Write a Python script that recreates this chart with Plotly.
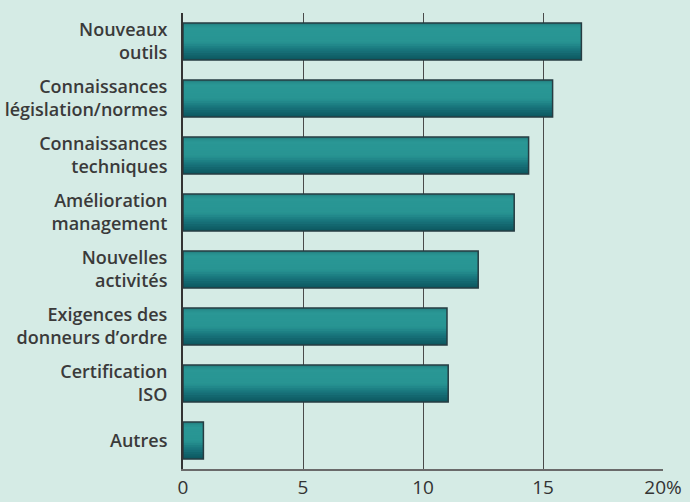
import plotly.graph_objects as go

categories = [
    "Nouveaux<br>outils",
    "Connaissances<br>législation/normes",
    "Connaissances<br>techniques",
    "Amélioration<br>management",
    "Nouvelles<br>activités",
    "Exigences des<br>donneurs d’ordre",
    "Certification<br>ISO",
    "Autres",
]
values = [16.6, 15.4, 14.4, 13.8, 12.3, 11.0, 11.05, 0.85]
tick_vals = [0, 5, 10, 15, 20]
tick_text = ["0", "5", "10", "15", "20%"]

BG = "#d5ebe5"
BAR_W = 0.65

def lerp(c1, c2, t):
    a = [int(c1[i:i + 2], 16) for i in (1, 3, 5)]
    b = [int(c2[i:i + 2], 16) for i in (1, 3, 5)]
    return "rgb(%d,%d,%d)" % tuple(round(a[k] + (b[k] - a[k]) * t) for k in range(3))

# vertical gradient stops (visual top -> bottom)
stops = [(0.0, "#237f80"), (0.12, "#2a9795"), (0.5, "#289593"), (0.75, "#17727a"), (1.0, "#0c555d")]

def grad(t):
    for (t0, c0), (t1, c1) in zip(stops[:-1], stops[1:]):
        if t0 <= t <= t1:
            return lerp(c0, c1, (t - t0) / (t1 - t0))
    return stops[-1][1]

fig = go.Figure()
N = 16
band = BAR_W / N
for i in range(N):
    t = (i + 0.5) / N
    # y axis reversed: positive offset goes downward visually
    off = -BAR_W / 2 + i * band
    w = band if i == N - 1 else band * 2.0
    fig.add_trace(go.Bar(
        x=values, y=categories, orientation="h",
        width=w, offset=off,
        marker=dict(color=grad(t), line=dict(width=0)),
        hoverinfo="skip", showlegend=False,
    ))

fig.add_trace(go.Bar(
    x=values, y=categories, orientation="h",
    width=BAR_W,
    marker=dict(color="rgba(0,0,0,0)", line=dict(color="#263c42", width=1.5)),
    showlegend=False,
))

fig.update_layout(
    width=690, height=502,
    paper_bgcolor=BG, plot_bgcolor=BG,
    margin=dict(l=183, r=27, t=13, b=33),
    barmode="overlay",
    font=dict(family="Open Sans, sans-serif", color="#333333"),
    xaxis=dict(
        range=[0, 20], tickvals=tick_vals, ticktext=tick_text,
        showgrid=True, gridcolor="#4a4a4a", gridwidth=1,
        zeroline=False, showline=True, linecolor="#6a6a6a", linewidth=2,
        ticks="", tickfont=dict(size=19, color="#333333"),
        automargin=False, fixedrange=True,
    ),
    yaxis=dict(
        autorange="reversed", showgrid=False, zeroline=False,
        showline=True, linecolor="#333333", linewidth=2,
        ticks="", ticklabelstandoff=10, automargin=False,
        tickfont=dict(size=18, color="#3a3a3a", weight=600),
    ),
)

fig.write_html(
    "out.html",
    config={"displayModeBar": False},
    post_script="document.body.style.margin='0';document.body.style.overflow='hidden';"
                "document.body.style.background='#d5ebe5';",
)
